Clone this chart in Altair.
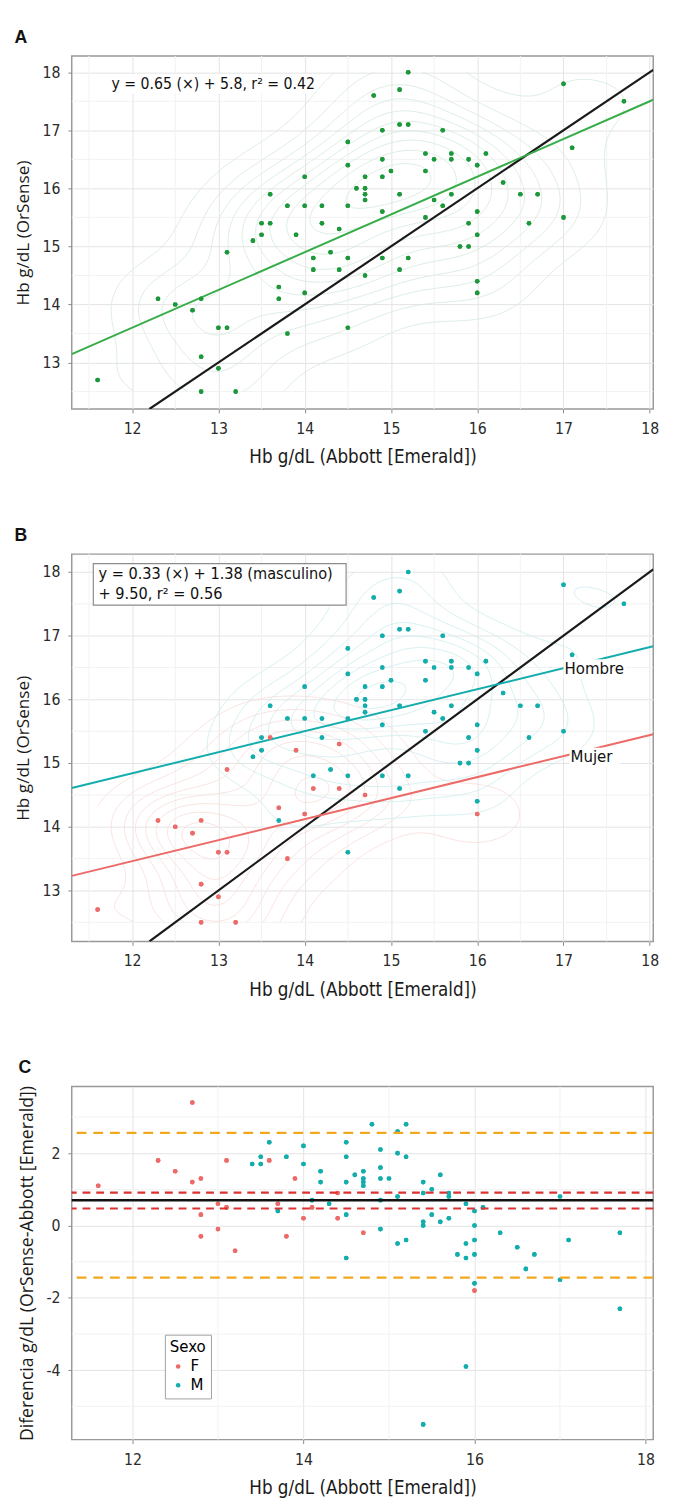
import numpy as np
import pandas as pd
import altair as alt

# ---------------- data ----------------
abbott = [15.2, 17.0, 15.1, 14.8, 17.7,  15.1, 15.2, 14.9, 15.6, 14.5,
          17.1, 15.4, 15.7, 16.1, 14.9,  15.5, 15.7, 15.9, 16.0, 14.5,
          15.0, 15.4, 14.0, 14.7, 14.9,  16.3, 14.6, 14.7, 14.7, 14.7,
          13.6, 15.1, 15.7, 16.5, 16.7,  15.5, 13.8, 14.0, 14.2, 14.5,
          15.6, 14.9, 16.0, 15.4, 17.0,  13.5, 13.6, 14.2, 15.9, 16.6,
          14.4, 13.5, 13.9, 16.0, 13.4,  15.8, 15.9, 13.1, 14.3, 14.1,
          14.5, 14.9, 15.2, 14.1, 14.4,  15.1, 14.7, 16.0, 13.7, 13.7,
          14.0, 16.0, 12.3, 12.8, 12.5,  12.7, 13.0, 13.1, 14.5, 13.8,
          12.8, 13.0, 11.6, 12.8, 13.2]
orsense = [18.0, 17.8, 17.7, 17.6, 17.5,  17.1, 17.1, 17.0, 17.0, 16.8,
           16.7, 16.6, 16.6, 16.6, 16.5,  16.5, 16.5, 16.5, 16.4, 16.4,
           16.3, 16.3, 16.2, 16.2, 16.2,  16.1, 16.0, 16.0, 15.9, 15.8,
           15.9, 15.9, 15.9, 15.9, 15.9,  15.8, 15.7, 15.7, 15.7, 15.7,
           15.7, 15.6, 15.6, 15.5, 15.5,  15.4, 15.4, 15.4, 15.4, 15.4,
           15.3, 15.2, 15.2, 15.2, 15.1,  15.0, 15.0, 14.9, 14.9, 14.8,
           14.8, 14.8, 14.8, 14.6, 14.6,  14.6, 14.5, 14.4, 14.3, 14.1,
           14.2, 14.2, 14.1, 14.1, 14.0,  13.9, 13.6, 13.6, 13.6, 13.5,
           13.1, 12.9, 12.7, 12.5, 12.5]
sexo = ["M", "M", "M", "M", "M",  "M", "M", "M", "M", "M",
        "M", "M", "M", "M", "M",  "M", "M", "M", "M", "M",
        "M", "M", "M", "M", "M",  "M", "M", "M", "M", "M",
        "M", "M", "M", "M", "M",  "M", "M", "M", "M", "M",
        "M", "M", "M", "M", "M",  "M", "F", "M", "M", "M",
        "F", "M", "F", "M", "M",  "M", "M", "F", "M", "M",
        "M", "M", "M", "F", "F",  "M", "F", "M", "F", "M",
        "F", "F", "F", "F", "F",  "F", "F", "F", "M", "F",
        "F", "F", "F", "F", "F"]

# points that appear only in panel C (difference plot)
c_extra_abbott = [12.7, 15.4, 15.4, 15.9, 16.0, 17.7]
c_extra_diff = [3.4, 0.0, -5.5, -3.9, 0.0, -2.3]
c_extra_sexo = ["F", "M", "M", "M", "M", "M"]

# regression coefficients printed on the figure
reg_a_slope, reg_a_icpt = 0.65, 5.8
reg_b_slope, reg_b_male, reg_b_icpt = 0.33, 1.38, 9.50

# Bland-Altman statistics
ba_mean = [0.70]
ba_ci = [0.47, 0.91]
ba_loa = [2.56, -1.44]

# axis ticks (major = labelled, minor = light grid only)
xticks_ab = [12, 13, 14, 15, 16, 17, 18]
xminor_ab = [11.5, 12.5, 13.5, 14.5, 15.5, 16.5, 17.5]
yticks_ab = [13, 14, 15, 16, 17, 18]
yminor_ab = [12.5, 13.5, 14.5, 15.5, 16.5, 17.5]
xticks_c = [12, 14, 16, 18]
xminor_c = [13, 15, 17]
yticks_c = [-4, -2, 0, 2]
yminor_c = [-5, -3, -1, 1, 3]

# ---------------- styling ----------------
XDOM = [11.3, 18.04]
YDOM = [12.2, 18.28]
XDOM_C = [11.29, 18.09]
YDOM_C = [-5.92, 3.84]
W = 593
NARROW = "'Liberation Sans Narrow', 'DejaVu Sans Condensed', 'Roboto', sans-serif"
HUMAN = "'Open Sans', 'Noto Sans', sans-serif"
COL_F = "#ec6a68"
COL_M = "#14adad"
GRID_MAJOR = "#e3e3e3"
GRID_MINOR = "#f2f2f2"
LABEL_EXPR = "'' + datum.value"

df = pd.DataFrame({"abbott": abbott, "orsense": orsense, "sexo": sexo})
dfc = pd.concat([
    pd.DataFrame({"abbott": abbott,
                  "diff": np.round(np.array(orsense) - np.array(abbott), 2),
                  "sexo": sexo}),
    pd.DataFrame({"abbott": c_extra_abbott, "diff": c_extra_diff, "sexo": c_extra_sexo}),
], ignore_index=True)


# ---------------- 2D density contours (like ggplot stat_density_2d) ----------------
def bw_nrd(v):
    v = np.asarray(v, float)
    q = np.quantile(v, [0.25, 0.75])
    return 4 * 1.06 * min(np.std(v, ddof=1), (q[1] - q[0]) / 1.34) * len(v) ** (-0.2)


def kde2d(x, y, lims, n=100):
    x = np.asarray(x, float); y = np.asarray(y, float)
    hx = bw_nrd(x) / 4; hy = bw_nrd(y) / 4
    gx = np.linspace(lims[0], lims[1], n); gy = np.linspace(lims[2], lims[3], n)
    ax_ = np.exp(-0.5 * ((gx[:, None] - x[None, :]) / hx) ** 2) / np.sqrt(2 * np.pi)
    ay_ = np.exp(-0.5 * ((gy[:, None] - y[None, :]) / hy) ** 2) / np.sqrt(2 * np.pi)
    z = ax_ @ ay_.T / (len(x) * hx * hy)
    return gx, gy, z


def pretty(lo, hi, n=10):
    cell = (hi - lo) / n
    base = 10 ** np.floor(np.log10(cell))
    h, h5 = 1.5, 0.5 + 1.5 * 1.5
    U = base
    if 2 * base - cell < h * (cell - U):
        U = 2 * base
        if 5 * base - cell < h5 * (cell - U):
            U = 5 * base
            if 10 * base - cell < h * (cell - U):
                U = 10 * base
    return np.arange(np.floor(lo / U) * U, np.ceil(hi / U) * U + U / 2, U)


def contour_segments(gx, gy, z, levels):
    out = []
    nx, ny = z.shape
    for lv in levels:
        if lv <= z.min() or lv >= z.max():
            continue
        b = z > lv
        for i in range(nx - 1):
            for j in range(ny - 1):
                c0, c1, c2, c3 = b[i, j], b[i + 1, j], b[i + 1, j + 1], b[i, j + 1]
                if c0 == c1 == c2 == c3:
                    continue
                p = {}
                if c0 != c1:
                    t = (lv - z[i, j]) / (z[i + 1, j] - z[i, j])
                    p["b"] = (gx[i] + t * (gx[i + 1] - gx[i]), gy[j])
                if c1 != c2:
                    t = (lv - z[i + 1, j]) / (z[i + 1, j + 1] - z[i + 1, j])
                    p["r"] = (gx[i + 1], gy[j] + t * (gy[j + 1] - gy[j]))
                if c3 != c2:
                    t = (lv - z[i, j + 1]) / (z[i + 1, j + 1] - z[i, j + 1])
                    p["t"] = (gx[i] + t * (gx[i + 1] - gx[i]), gy[j + 1])
                if c0 != c3:
                    t = (lv - z[i, j]) / (z[i, j + 1] - z[i, j])
                    p["l"] = (gx[i], gy[j] + t * (gy[j + 1] - gy[j]))
                keys = list(p.keys())
                if len(keys) == 2:
                    pairs = [(keys[0], keys[1])]
                else:
                    center = z[i:i + 2, j:j + 2].mean() > lv
                    pairs = [("b", "r"), ("t", "l")] if center == c0 else [("b", "l"), ("r", "t")]
                for a, c in pairs:
                    out.append((p[a][0], p[a][1], p[c][0], p[c][1]))
    return pd.DataFrame(out, columns=["x", "y", "x2", "y2"]).round(4)


lims = [min(abbott), max(abbott), min(orsense), max(orsense)]
gx, gy, zA = kde2d(abbott, orsense, lims)
segA = contour_segments(gx, gy, zA, pretty(zA.min(), zA.max(), 14))

isF = np.array(sexo) == "F"
_, _, zF = kde2d(np.array(abbott)[isF], np.array(orsense)[isF], lims)
_, _, zM = kde2d(np.array(abbott)[~isF], np.array(orsense)[~isF], lims)
lvB = pretty(min(zF.min(), zM.min()), max(zF.max(), zM.max()), 10)
segF = contour_segments(gx, gy, zF, lvB)
segM = contour_segments(gx, gy, zM, lvB)

# ---------------- shared pieces ----------------
X_TITLE = "Hb g/dL (Abbott [Emerald])"
Y_TITLE = "Hb g/dL (OrSense)"
xsc = alt.Scale(domain=XDOM, nice=False, zero=False)
ysc = alt.Scale(domain=YDOM, nice=False, zero=False)
xaxis_ab = alt.Axis(values=xticks_ab, title=X_TITLE, titleFont=NARROW, labelExpr=LABEL_EXPR)
yaxis_ab = alt.Axis(values=yticks_ab, title=Y_TITLE, titleFont=HUMAN, labelExpr=LABEL_EXPR,
                    titleFontSize=17.5)


def minor_grid(xs, ys, xscale, yscale):
    vx = alt.Chart(pd.DataFrame({"v": xs})).mark_rule(color=GRID_MINOR, strokeWidth=1).encode(
        x=alt.X("v:Q", scale=xscale))
    hy = alt.Chart(pd.DataFrame({"v": ys})).mark_rule(color=GRID_MINOR, strokeWidth=1).encode(
        y=alt.Y("v:Q", scale=yscale))
    return vx, hy


def contour_layer(seg, color):
    return alt.Chart(seg).mark_rule(color=color, strokeWidth=0.8, clip=True).encode(
        x=alt.X("x:Q", scale=xsc), y=alt.Y("y:Q", scale=ysc), x2="x2:Q", y2="y2:Q")


def panel_title(t):
    return alt.TitleParams(t, anchor="start", frame="bounds", fontSize=18, fontWeight="bold",
                           font="Liberation Sans", offset=9, color="#111")


ident = pd.DataFrame({"v": [max(XDOM[0], YDOM[0]), min(XDOM[1], YDOM[1])]})
ident_layer = alt.Chart(ident).mark_line(color="#1a1a1a", strokeWidth=2.2, clip=True).encode(
    x=alt.X("v:Q", scale=xsc), y=alt.Y("v:Q", scale=ysc))

gAx, gAy = minor_grid(xminor_ab, yminor_ab, xsc, ysc)

# ---- Panel A ----
lineA = alt.Chart(pd.DataFrame({"x": XDOM})).transform_calculate(
    y=f"{reg_a_slope} * datum.x + {reg_a_icpt}"
).mark_line(color="#36ad47", strokeWidth=2, clip=True).encode(
    x=alt.X("x:Q", scale=xsc), y=alt.Y("y:Q", scale=ysc))

ptsA = alt.Chart(df).mark_circle(size=22, opacity=1, color="#1c983b").encode(
    x=alt.X("abbott:Q", scale=xsc, axis=xaxis_ab), y=alt.Y("orsense:Q", scale=ysc, axis=yaxis_ab))

boxA = alt.Chart(pd.DataFrame({"a": [0]})).mark_rect(fill="white").encode(
    x=alt.datum(11.93), x2=alt.datum(14.06), y=alt.datum(17.63), y2=alt.datum(17.97))
textA = alt.Chart(pd.DataFrame({"a": [0]})).mark_text(
    align="left", baseline="middle", fontSize=16, font=NARROW, color="#111"
).encode(x=alt.datum(11.76), y=alt.datum(17.8),
         text=alt.value("y = 0.65 (\u00d7) + 5.8, r\u00b2 = 0.42"))

panelA = alt.layer(ptsA, gAx, gAy, contour_layer(segA, "#d3e9dc"), ident_layer, lineA,
                   ptsA, boxA, textA).properties(width=W, height=360, title=panel_title("A"))

# ---- Panel B ----
colsc = alt.Scale(domain=["F", "M"], range=[COL_F, COL_M])
lineB = alt.Chart(pd.DataFrame({"x": XDOM * 2, "sexo": ["F", "F", "M", "M"]})).transform_calculate(
    y=f"{reg_b_slope} * datum.x + {reg_b_icpt} + (datum.sexo == 'M' ? {reg_b_male} : 0)"
).mark_line(strokeWidth=2, clip=True).encode(
    x=alt.X("x:Q", scale=xsc), y=alt.Y("y:Q", scale=ysc),
    color=alt.Color("sexo:N", scale=alt.Scale(domain=["F", "M"], range=["#f07a70", "#1ab4bc"]),
                    legend=None),
    detail="sexo:N")
ptsB = alt.Chart(df).mark_circle(size=22, opacity=1).encode(
    x=alt.X("abbott:Q", scale=xsc, axis=xaxis_ab), y=alt.Y("orsense:Q", scale=ysc, axis=yaxis_ab),
    color=alt.Color("sexo:N", scale=colsc, legend=None))

boxB = alt.Chart(pd.DataFrame({"a": [0]})).mark_rect(fill="white", stroke="#8c8c8c", strokeWidth=1.2).encode(
    x=alt.datum(11.55), x2=alt.datum(14.48), y=alt.datum(17.48), y2=alt.datum(18.13))
textB = alt.Chart(pd.DataFrame({"t": ["y = 0.33 (\u00d7) + 1.38 (masculino)", "+ 9.50, r\u00b2 = 0.56"],
                                "yy": [17.96, 17.65]})).mark_text(
    align="left", baseline="middle", fontSize=16.5, font=NARROW, color="#111"
).encode(x=alt.datum(11.61), y=alt.Y("yy:Q", scale=ysc), text="t:N")

lab_df = pd.DataFrame({"t": ["Hombre", "Mujer"], "x1": [17.0, 17.07], "x2": [17.72, 17.66],
                       "yc": [16.48, 15.09]})
labBox = alt.Chart(lab_df).transform_calculate(y1="datum.yc - 0.15", y2="datum.yc + 0.15").mark_rect(
    fill="white").encode(x=alt.X("x1:Q", scale=xsc), x2="x2:Q", y=alt.Y("y1:Q", scale=ysc), y2="y2:Q")
labTxt = alt.Chart(lab_df).mark_text(align="left", baseline="middle", fontSize=17, font=NARROW,
                                     color="#111", dx=1).encode(
    x=alt.X("x1:Q", scale=xsc), y=alt.Y("yc:Q", scale=ysc), text="t:N")

panelB = alt.layer(ptsB, gAx, gAy, contour_layer(segF, "#f7dcda"), contour_layer(segM, "#cdeced"),
                   ident_layer, lineB, ptsB, boxB, textB, labBox, labTxt).properties(
    width=W, height=395, title=panel_title("B"))

# ---- Panel C ----
xscC = alt.Scale(domain=XDOM_C, nice=False, zero=False)
yscC = alt.Scale(domain=YDOM_C, nice=False, zero=False)
gCx, gCy = minor_grid(xminor_c, yminor_c, xscC, yscC)

ptsC = alt.Chart(dfc).mark_circle(size=22, opacity=1).encode(
    x=alt.X("abbott:Q", scale=xscC,
            axis=alt.Axis(values=xticks_c, title=X_TITLE, titleFont=NARROW, labelExpr=LABEL_EXPR)),
    y=alt.Y("diff:Q", scale=yscC,
            axis=alt.Axis(values=yticks_c, title="Diferencia g/dL (OrSense-Abbott [Emerald])",
                          titleFont=HUMAN, labelExpr=LABEL_EXPR, titleFontSize=18)),
    color=alt.Color("sexo:N", scale=colsc, legend=alt.Legend(
        title="Sexo", orient="none", legendX=95, legendY=253, fillColor="white",
        strokeColor="#a0a0a0", padding=5, titleFontWeight="normal", titleFontSize=17,
        titleFont=NARROW, labelFont=NARROW, labelFontSize=17, symbolType="circle",
        symbolSize=22, rowPadding=1, titlePadding=2, labelOffset=4)))

loa = alt.Chart(pd.DataFrame({"y": ba_loa})).mark_rule(
    color="#f2a81d", strokeWidth=2.2, strokeDash=[10, 7]).encode(y=alt.Y("y:Q", scale=yscC))
ci = alt.Chart(pd.DataFrame({"y": ba_ci})).mark_rule(
    color="#dc3232", strokeWidth=2.2, strokeDash=[8, 6]).encode(y=alt.Y("y:Q", scale=yscC))
mean = alt.Chart(pd.DataFrame({"y": ba_mean})).mark_rule(
    color="#111111", strokeWidth=2.6).encode(y=alt.Y("y:Q", scale=yscC))

panelC = alt.layer(ptsC, gCx, gCy, ptsC, loa, ci, mean).properties(
    width=W, height=360, title=panel_title("C"))

chart = alt.vconcat(panelA, panelB, panelC, spacing=59, background="white").resolve_scale(
    x="independent", y="independent", color="independent"
).configure_view(stroke="#999999", strokeWidth=1.5).configure_axis(
    domain=False, tickColor="#8a8a8a", tickSize=4, labelFont=NARROW, labelFontSize=16,
    labelColor="#2a2a2a", titleFontSize=19, titleFontWeight="normal", titleColor="#1a1a1a",
    gridWidth=1, gridColor=GRID_MAJOR
).configure_axisX(labelPadding=8, titlePadding=12).configure_axisY(labelPadding=8, titlePadding=10)

chart.save("out.html", embed_options={"renderer": "svg", "actions": False})
